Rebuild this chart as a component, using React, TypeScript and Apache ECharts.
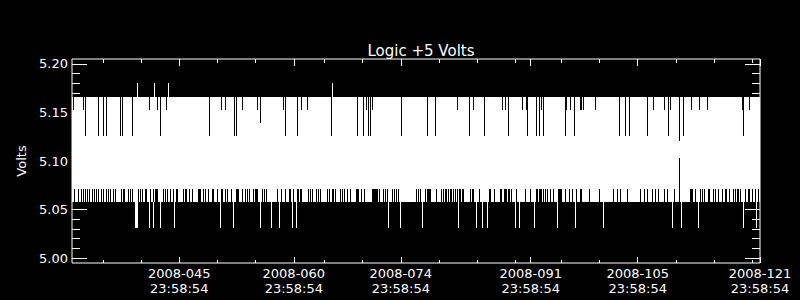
import React, { useEffect, useRef } from "react";
import * as echarts from "echarts";

// x values: fractional day-of-year 2008 (day N 23:58:54 = N + 0.999236)
const X_MIN = 31.97;
const X_MAX = 121.999236;
const xMajorTicks = [45.999236, 60.999236, 74.999236, 91.999236, 105.999236, 121.999236];
const xTickLabels = [
  "2008-045\n23:58:54",
  "2008-060\n23:58:54",
  "2008-074\n23:58:54",
  "2008-091\n23:58:54",
  "2008-105\n23:58:54",
  "2008-121\n23:58:54",
];
const xMinorTicks = [35.999, 40.999, 50.999, 55.999, 64.999, 69.999, 79.999, 84.999, 89.999, 95.999, 100.999, 110.999, 115.999, 120.999];

const Y_MIN = 4.995;
const Y_MAX = 5.205;
const yMajorTicks = [5.0, 5.05, 5.1, 5.15, 5.2];
const yMinorTicks = [5.01, 5.02, 5.03, 5.04, 5.06, 5.07, 5.08, 5.09, 5.11, 5.12, 5.13, 5.14, 5.16, 5.17, 5.18, 5.19];

// quantised voltage levels (Volts)
const BAND_LOW = 5.058;
const ROW_TOP = 5.071;
const BAND_HIGH = 5.166;
const DIP_SHORT = 5.153;
const DIP_MID = 5.139;
const DIP_LONG = 5.126;
const SPIKE_UP = 5.18;
const SPIKE_DOWN = 5.031;

const bandSpan = [31.97, 121.999];

// samples whose maximum stays below the usual top level
const topDipsShort = [32.23, 33.45, 42.09, 43.13, 44.36, 51.47, 52.03, 54.25, 56.22, 59.71, 59.97, 61.98, 62.76, 70.48, 71.27, 82.39, 84.48, 88.28, 88.67, 90.89, 91.42, 93.38, 96.74, 97.18, 98.45, 98.64, 98.84, 100.41, 108.04, 109.48, 110.26, 113.01, 114.06, 115.1, 119.68, 120.6];
const topDipsMid = [56.61];
const topDipsLong = [33.71, 35.41, 36.07, 36.42, 38.34, 38.55, 39.91, 43.52, 49.94, 53.26, 53.52, 59.88, 61.45, 65.9, 69.3, 70.09, 70.74, 71.0, 75.06, 78.46, 79.51, 83.96, 85.92, 89.06, 91.55, 92.73, 93.12, 93.64, 96.57, 97.7, 103.59, 104.37, 104.9, 107.25, 110.0, 112.05, 119.81];

// samples reaching above the band
const upSpikes = [40.52, 42.74, 44.62, 66.03];
// samples reaching below the band
const downSpikes = [40.28, 40.41, 40.54, 42.09, 42.7, 43.49, 45.36, 51.34, 53.1, 56.7, 58.08, 59.06, 60.78, 61.32, 73.45, 75.02, 77.81, 82.52, 84.88, 85.71, 86.32, 89.98, 90.5, 92.47, 95.47, 97.83, 101.49, 110.52, 111.7, 113.93, 119.81, 121.57];

// samples whose minimum stays at the second level
const bottomGaps = [
  32.32, 32.85, 33.15, 33.41, 33.71, 34.02, 34.29, 34.59, 34.85, 35.24, 35.44, 35.77, 36.12, 36.46, 36.81, 37.01, 37.43, 37.62,
  38.51, 38.68, 38.81, 39.39, 39.65, 39.85, 40.7, 40.89, 41.26, 41.56, 41.78, 42.22, 42.61, 42.92, 43.09, 43.22, 43.97, 44.17,
  44.49, 44.89, 45.19, 45.62, 45.84, 46.59, 46.76, 46.89, 47.37, 47.76, 48.46, 48.63, 48.76, 49.2, 49.4, 49.86, 50.29, 50.5,
  50.98, 51.47, 51.68, 52.03, 52.38, 52.78, 53.47, 53.63, 53.77, 54.22, 54.65, 54.96, 55.16, 55.75,
  55.92, 56.09, 56.27, 56.87, 57.13, 57.45, 58.8, 59.41, 59.93, 60.41, 60.56, 61.02, 61.5, 61.67, 61.81, 62.03, 62.89, 63.24,
  63.47, 63.94, 64.2, 64.46, 65.38, 65.69, 66.12, 66.25, 66.39, 67.08, 67.34, 67.69, 68.05, 68.39, 69.17, 69.3, 69.43, 69.79,
  70.31, 71.23, 71.38, 71.54, 71.7, 71.86, 71.97, 72.23, 72.67, 73.02, 73.23, 73.88, 74.15, 74.41, 74.76, 77.02, 77.29, 77.6,
  78.29, 78.45, 78.61, 78.76, 78.92, 79.73, 80.35, 80.56, 80.78, 80.99, 81.21, 81.47, 81.67, 81.87, 82.18, 82.35, 82.7, 82.86,
  83.02, 83.17, 84.18, 84.34, 84.48, 85.23, 86.54, 86.71, 87.23, 88.02, 88.17, 88.5, 88.7, 88.89, 89.06, 89.23, 89.42, 90.2,
  91.34, 91.94, 92.69, 92.88, 93.08, 93.25, 93.45, 93.64,
  93.87, 94.19, 94.52, 95.04, 95.63, 95.74, 95.89, 96.05, 96.61, 97.07, 97.4, 98.05, 98.45, 98.62, 99.75, 101.06, 102.89,
  103.35, 103.81, 104.6, 106.3, 106.95, 107.34, 107.87, 108.39, 108.78, 109.44, 109.96, 110.75, 112.84, 113.01, 113.23,
  113.62, 114.15, 114.41, 114.8, 115.2, 115.37, 115.85, 116.24, 116.63, 117.03, 117.42, 117.68, 118.07, 118.47, 118.73,
  118.99, 119.25, 119.51, 120.04, 120.43, 120.69, 121.08, 121.35, 121.74,
];

// short data dropout near day 111
const dropoutDays = [111.4, 111.53];
const dropoutSpans = [
  [111.4, 5.111, 5.121],
  [111.53, 5.103, 5.111],
];

const FONT = "DejaVu Sans";

function columnSeries(data: number[][], color: string, z: number) {
  return {
    type: "custom",
    z,
    silent: true,
    clip: true,
    encode: { x: 0, y: [1, 2] },
    renderItem: (_p: any, api: any) => {
      const x = api.value(0);
      const a = api.coord([x, api.value(1)]);
      const b = api.coord([x, api.value(2)]);
      const y0 = Math.round(Math.min(a[1], b[1]));
      const y1 = Math.round(Math.max(a[1], b[1]));
      return {
        type: "rect",
        shape: { x: Math.floor(a[0]), y: y0, width: 1, height: Math.max(1, y1 - y0) },
        style: { fill: color },
      };
    },
    data,
  };
}

export default function App() {
  const ref = useRef<HTMLDivElement>(null);
  useEffect(() => {
    document.body.style.margin = "0";
    document.body.style.background = "#000";
    const chart = echarts.init(ref.current!, undefined, { renderer: "svg" });

    const tickCommon = (values: number[], len: number) => ({
      show: true,
      inside: true,
      length: len,
      customValues: values,
      lineStyle: { color: "#fff", width: 1 },
    });

    const xBase = {
      type: "value",
      min: X_MIN,
      max: X_MAX,
      axisLine: { show: false },
      splitLine: { show: false },
    };
    const yBase = {
      type: "value",
      min: Y_MIN,
      max: Y_MAX,
      axisLine: { show: false },
      splitLine: { show: false },
    };

    const option: any = {
      animation: false,
      backgroundColor: "#000",
      title: {
        text: "Logic +5 Volts",
        left: 416,
        top: 38,
        textAlign: "center",
        textStyle: { color: "#fff", fontSize: 15, fontWeight: "normal", fontFamily: FONT },
      },
      grid: {
        left: 72,
        top: 59,
        width: 688,
        height: 204,
        show: true,
        borderColor: "#fff",
        borderWidth: 1,
        backgroundColor: "transparent",
      },
      xAxis: [
        {
          ...xBase,
          position: "bottom",
          axisTick: tickCommon(xMajorTicks, 6),
          axisLabel: {
            show: true,
            customValues: xMajorTicks,
            color: "#fff",
            fontSize: 13,
            fontFamily: FONT,
            lineHeight: 15,
            margin: 3,
            showMaxLabel: true,
            showMinLabel: true,
            formatter: (v: number) => {
              let best = 0;
              xMajorTicks.forEach((t, i) => {
                if (Math.abs(t - v) < Math.abs(xMajorTicks[best] - v)) best = i;
              });
              return xTickLabels[best];
            },
          },
        },
        { ...xBase, position: "bottom", axisTick: tickCommon(xMinorTicks, 3), axisLabel: { show: false } },
        { ...xBase, position: "top", axisTick: tickCommon(xMajorTicks, 7), axisLabel: { show: false } },
        { ...xBase, position: "top", axisTick: tickCommon(xMinorTicks, 4), axisLabel: { show: false } },
      ],
      yAxis: [
        {
          ...yBase,
          position: "left",
          name: "Volts",
          nameLocation: "middle",
          nameGap: 43,
          nameRotate: 90,
          nameTextStyle: { color: "#fff", fontSize: 13, fontFamily: FONT },
          axisTick: tickCommon(yMajorTicks, 15),
          axisLabel: {
            show: true,
            customValues: yMajorTicks,
            color: "#fff",
            fontSize: 13,
            fontFamily: FONT,
            margin: 4,
            formatter: (v: number) => v.toFixed(2),
          },
        },
        { ...yBase, position: "left", axisTick: tickCommon(yMinorTicks, 8), axisLabel: { show: false } },
        { ...yBase, position: "right", axisTick: tickCommon(yMajorTicks, 15), axisLabel: { show: false } },
        { ...yBase, position: "right", axisTick: tickCommon(yMinorTicks, 8), axisLabel: { show: false } },
      ],
      series: [
        {
          type: "custom",
          z: 2,
          silent: true,
          clip: true,
          encode: { x: [0, 1], y: [2, 3] },
          renderItem: (_p: any, api: any) => {
            const a = api.coord([api.value(0), api.value(3)]);
            const b = api.coord([api.value(1), api.value(2)]);
            const y0 = Math.round(a[1]);
            const y1 = Math.round(b[1]);
            return {
              type: "rect",
              shape: { x: Math.floor(a[0]), y: y0, width: Math.ceil(b[0]) - Math.floor(a[0]), height: y1 - y0 },
              style: { fill: "#fff" },
            };
          },
          data: [[bandSpan[0], bandSpan[1], BAND_LOW, BAND_HIGH]],
        },
        columnSeries(topDipsShort.map((d) => [d, DIP_SHORT, BAND_HIGH]), "#000", 3),
        columnSeries(topDipsMid.map((d) => [d, DIP_MID, BAND_HIGH]), "#000", 3),
        columnSeries(topDipsLong.map((d) => [d, DIP_LONG, BAND_HIGH]), "#000", 3),
        columnSeries(bottomGaps.map((d) => [d, BAND_LOW, ROW_TOP]), "#000", 3),
        columnSeries(dropoutDays.map((d) => [d, BAND_LOW, BAND_HIGH]), "#000", 3),
        columnSeries(upSpikes.map((d) => [d, BAND_HIGH, SPIKE_UP]), "#fff", 4),
        columnSeries(downSpikes.map((d) => [d, SPIKE_DOWN, BAND_LOW]), "#fff", 4),
        columnSeries(dropoutSpans, "#fff", 4),
      ],
    };
    chart.setOption(option);
    return () => chart.dispose();
  }, []);
  return <div ref={ref} style={{ width: 800, height: 300 }} />;
}
